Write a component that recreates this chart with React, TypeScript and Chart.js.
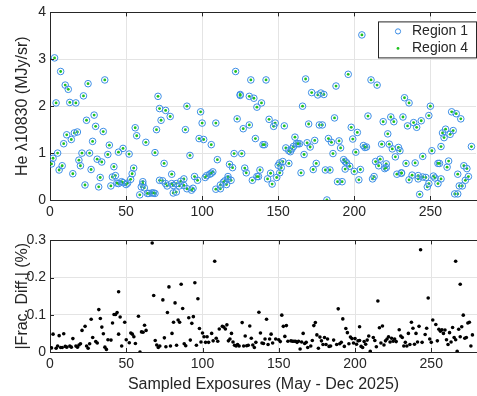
import React, { useEffect, useRef } from 'react';
import { Chart, registerables } from 'chart.js';

Chart.register(...registerables);

const FONT = '"Liberation Sans", Arial, Helvetica, sans-serif';
const AXIS = '#262626';
const GRID = '#e4e4e4';
const BLUE = '#3d8ee6';
const GREEN = '#1fc21f';

const xTickValues = [0, 50, 100, 150, 200, 250];
const topYTicks = [0, 1, 2, 3, 4];
const bottomYTicks = [0, 0.1, 0.2, 0.3];
const bottomYLabels = ['0', '0.1', '0.2', '0.3'];

const seriesNames = ['Region 1', 'Region 4'];
const xLabel = 'Sampled Exposures (May - Dec 2025)';
const topYLabel = 'He \u03bb10830 (MJy/sr)';
const bottomYLabel = '|Frac. Diff.| (%)';

const exposureX = [1,2,3,4,5,6,7,8,9,10,11,12,13,14,15,16,17,18,19,20,21,22,23,24,25,26,27,28,29,30,31,32,33,34,35,36,38,39,40,41,42,43,44,45,45,47,48,48,50,51,52,53,54,55,56,57,59,60,61,61,62,63,64,65,67,68,69,69,70,71,72,72,73,74,75,76,76,77,79,80,80,81,81,83,83,85,86,88,88,89,90,90,92,93,94,95,97,98,99,100,101,102,103,105,106,106,107,109,109,110,112,112,114,115,116,117,117,118,119,120,121,122,123,125,125,126,127,128,129,131,131,132,133,134,135,136,136,137,138,139,140,141,142,143,144,145,146,147,148,149,150,151,151,152,153,154,155,157,157,158,159,160,161,162,163,164,165,166,167,168,169,170,171,172,173,174,175,176,177,178,179,180,181,182,183,184,185,186,187,188,189,190,191,192,193,194,194,195,196,197,198,199,200,201,202,203,204,205,206,207,208,209,211,212,213,214,215,216,217,218,219,220,221,221,222,223,224,225,226,227,228,229,230,231,231,232,233,234,235,236,236,238,239,240,241,242,242,243,244,245,245,247,248,249,249,250,251,252,253,255,255,256,257,257,258,259,260,261,262,263,264,265,266,267,268,268,269,270,271,272,273,274,275,277];

const region1 = [0.77,0.89,3.03,2.07,1.00,0.64,2.74,0.73,1.20,2.45,1.39,2.36,2.08,1.29,0.56,1.43,2.07,1.45,0.85,0.73,1.00,2.22,0.32,1.70,2.48,1.00,0.65,1.25,1.81,1.57,0.87,0.28,0.48,0.81,1.46,2.56,0.97,1.17,0.30,0.49,0.71,0.52,0.36,0.35,1.02,0.39,1.10,0.37,0.33,0.36,0.98,0.44,0.56,0.68,1.54,1.37,0.11,0.28,0.39,0.34,0.26,1.23,0.14,0.14,0.15,0.15,1.01,0.14,1.50,2.21,1.95,0.42,1.70,0.41,0.78,0.35,1.91,0.30,1.78,0.35,0.55,0.15,0.31,0.17,0.35,0.30,0.40,0.31,0.45,1.50,0.24,2.00,0.95,0.21,0.25,0.50,0.42,1.31,1.88,1.64,1.29,0.48,0.52,0.55,1.18,0.57,0.60,0.23,1.64,0.86,0.32,0.24,0.38,0.41,0.33,0.45,0.50,0.76,0.42,0.69,0.99,2.74,1.73,2.23,2.25,0.99,1.52,0.68,0.58,1.60,2.21,2.56,0.42,2.17,1.31,0.50,1.98,0.50,0.64,2.07,1.18,1.18,2.56,0.45,1.72,0.57,0.34,1.57,1.64,0.48,0.74,0.58,0.79,0.69,0.82,1.58,1.11,1.05,0.78,1.03,1.09,1.14,1.34,1.20,1.20,1.20,0.58,2.00,0.97,2.58,1.22,1.62,1.13,2.29,0.65,1.27,0.78,2.24,1.60,2.28,1.60,2.25,0.64,0.00,1.31,0.64,1.23,0.99,1.75,2.43,0.39,1.26,1.11,0.39,0.86,0.66,0.82,0.79,2.68,0.72,1.55,1.30,0.61,1.02,1.44,0.43,0.65,3.52,1.16,1.12,1.13,1.79,2.56,0.45,0.50,0.82,2.45,0.73,0.87,1.19,1.67,0.67,0.77,0.69,1.41,1.19,1.77,1.09,1.67,0.92,0.55,1.12,1.05,0.58,0.57,1.77,2.18,0.78,1.58,2.07,0.43,0.53,1.65,0.79,1.55,0.52,0.45,0.12,1.69,0.93,0.49,0.48,0.28,0.35,1.80,2.00,1.05,0.51,0.47,0.35,0.78,0.78,0.45,1.14,1.43,1.33,1.51,0.70,0.83,1.40,1.88,1.48,0.13,1.84,0.55,0.13,0.30,1.73,0.30,0.73,0.42,0.67,0.50,1.14];

const region4 = [0.77,0.89,3.03,2.07,1.00,0.64,2.74,0.73,1.20,2.45,1.39,2.36,2.08,1.29,0.56,1.43,2.07,1.45,0.85,0.73,1.00,2.22,0.32,1.70,2.48,1.00,0.65,1.25,1.81,1.57,0.87,0.28,0.48,0.81,1.46,2.56,0.97,1.17,0.30,0.49,0.71,0.52,0.36,0.35,1.02,0.39,1.10,0.37,0.33,0.36,0.98,0.44,0.56,0.68,1.54,1.37,0.11,0.28,0.39,0.34,0.26,1.23,0.14,0.14,0.15,0.15,1.01,0.14,1.50,2.21,1.95,0.42,1.70,0.41,0.78,0.35,1.91,0.30,1.78,0.35,0.55,0.15,0.31,0.17,0.35,0.30,0.40,0.31,0.45,1.50,0.24,2.00,0.95,0.21,0.25,0.50,0.42,1.31,1.88,1.64,1.29,0.48,0.52,0.55,1.18,0.57,0.60,0.23,1.64,0.86,0.32,0.24,0.38,0.41,0.33,0.45,0.50,0.76,0.42,0.69,0.99,2.74,1.73,2.23,2.25,0.99,1.52,0.68,0.58,1.60,2.21,2.56,0.42,2.17,1.31,0.50,1.98,0.50,0.64,2.07,1.18,1.18,2.56,0.45,1.72,0.57,0.34,1.57,1.64,0.48,0.74,0.58,0.79,0.69,0.82,1.58,1.11,1.05,0.78,1.03,1.09,1.14,1.34,1.20,1.20,1.20,0.58,2.00,0.97,2.58,1.22,1.62,1.13,2.29,0.65,1.27,0.78,2.24,1.60,2.28,1.60,2.25,0.64,0.00,1.31,0.64,1.23,0.99,1.75,2.43,0.39,1.26,1.11,0.39,0.86,0.66,0.82,0.79,2.68,0.72,1.55,1.30,0.61,1.02,1.44,0.43,0.65,3.52,1.16,1.12,1.13,1.79,2.56,0.45,0.50,0.82,2.45,0.73,0.87,1.19,1.67,0.67,0.77,0.69,1.41,1.19,1.77,1.09,1.67,0.92,0.55,1.12,1.05,0.58,0.57,1.77,2.18,0.78,1.58,2.07,0.43,0.53,1.65,0.79,1.55,0.52,0.45,0.12,1.69,0.93,0.49,0.48,0.28,0.35,1.80,2.00,1.05,0.51,0.47,0.35,0.78,0.78,0.45,1.14,1.43,1.33,1.51,0.70,0.83,1.40,1.88,1.48,0.13,1.84,0.55,0.13,0.30,1.73,0.30,0.73,0.42,0.67,0.50,1.14];

const diffX = [1,2,4,5,6,7,8,9,10,11,13,14,15,17,18,19,20,21,23,24,25,26,27,28,30,31,32,33,34,35,36,37,38,40,41,42,43,44,45,45,46,47,49,50,52,53,54,55,56,58,59,60,61,62,63,67,68,69,70,71,72,74,75,76,77,78,79,80,81,82,83,84,85,86,87,88,89,91,92,93,94,95,96,97,98,99,100,101,102,103,104,106,107,108,109,110,111,113,114,115,116,117,118,119,120,121,122,123,124,126,127,128,129,130,131,132,133,134,135,137,138,139,140,141,142,143,144,145,146,148,150,151,152,153,154,155,156,158,159,160,161,162,163,164,165,166,167,168,169,171,172,173,174,175,176,177,178,179,180,181,182,183,184,186,188,189,190,191,192,193,194,195,196,197,198,199,200,201,202,203,203,204,205,206,207,208,209,210,212,213,214,215,216,217,218,219,220,221,222,223,224,225,226,227,229,230,231,232,233,234,235,236,237,238,239,240,241,242,243,244,246,247,248,249,250,251,253,254,255,256,257,258,259,260,261,262,263,264,265,266,267,266,268,269,269,270,271,272,273,274,275,276,277];

const fracDiff = [0.011,0.048,0.010,0.016,0.044,0.012,0.012,0.049,0.015,0.013,0.016,0.013,0.036,0.016,0.013,0.019,0.022,0.058,0.069,0.016,0.010,0.022,0.088,0.039,0.028,0.024,0.114,0.090,0.067,0.049,0.013,0.007,0.033,0.032,0.078,0.101,0.101,0.106,0.048,0.162,0.094,0.016,0.080,0.033,0.025,0.051,0.048,0.041,0.023,0.096,0.000,0.054,0.053,0.072,0.058,0.293,0.152,0.031,0.019,0.012,0.016,0.140,0.038,0.014,0.106,0.175,0.016,0.050,0.080,0.132,0.018,0.086,0.080,0.182,0.117,0.022,0.017,0.092,0.032,0.077,0.095,0.186,0.018,0.143,0.063,0.027,0.051,0.041,0.026,0.041,0.026,0.050,0.030,0.244,0.037,0.029,0.062,0.069,0.067,0.062,0.073,0.030,0.035,0.050,0.027,0.018,0.016,0.020,0.016,0.079,0.016,0.043,0.017,0.018,0.070,0.037,0.019,0.012,0.026,0.107,0.051,0.024,0.023,0.035,0.088,0.020,0.035,0.048,0.024,0.035,0.033,0.028,0.099,0.069,0.042,0.071,0.029,0.030,0.029,0.029,0.029,0.026,0.029,0.008,0.027,0.050,0.023,0.026,0.012,0.016,0.031,0.071,0.079,0.046,0.010,0.040,0.030,0.020,0.039,0.020,0.035,0.015,0.016,0.032,0.020,0.116,0.022,0.026,0.089,0.015,0.063,0.052,0.022,0.040,0.036,0.024,0.036,0.021,0.030,0.031,0.068,0.015,0.012,0.028,0.021,0.032,0.043,0.002,0.039,0.031,0.014,0.137,0.065,0.024,0.070,0.019,0.030,0.035,0.041,0.027,0.037,0.029,0.035,0.028,0.060,0.043,0.039,0.016,0.026,0.016,0.050,0.020,0.080,0.064,0.021,0.050,0.027,0.069,0.275,0.026,0.047,0.064,0.145,0.035,0.026,0.086,0.074,0.030,0.061,0.056,0.060,0.050,0.059,0.033,0.020,0.052,0.027,0.066,0.039,0.033,0.002,0.244,0.061,0.041,0.182,0.068,0.099,0.037,0.039,0.078,0.080,0.016,0.046];

function pairs(xs: number[], ys: number[]) {
  const n = Math.min(xs.length, ys.length);
  const out: { x: number; y: number }[] = [];
  for (let i = 0; i < n; i++) out.push({ x: xs[i], y: ys[i] });
  return out;
}

const framePlugin = {
  id: 'matlabFrame',
  afterDatasetsDraw(chart: any) {
    const { ctx, chartArea: a, scales } = chart;
    ctx.save();
    ctx.strokeStyle = AXIS;
    ctx.lineWidth = 1;
    ctx.beginPath();
    ctx.moveTo(a.left, Math.round(a.top) + 0.5);
    ctx.lineTo(a.right, Math.round(a.top) + 0.5);
    for (const t of scales.x.ticks) {
      const px = Math.round(scales.x.getPixelForValue(t.value)) + 0.5;
      ctx.moveTo(px, a.bottom);
      ctx.lineTo(px, a.bottom - 4);
      ctx.moveTo(px, a.top);
      ctx.lineTo(px, a.top + 4);
    }
    for (const t of scales.y.ticks) {
      const py = Math.round(scales.y.getPixelForValue(t.value)) + 0.5;
      ctx.moveTo(a.left, py);
      ctx.lineTo(a.left + 4, py);
    }
    ctx.stroke();
    ctx.restore();
  },
};

const legendPlugin = {
  id: 'boxLegend',
  afterDraw(chart: any) {
    const { ctx, chartArea: a } = chart;
    const bx = a.left + 328.5;
    const by = a.top + 9.5;
    const bw = 98;
    const bh = 36;
    ctx.save();
    ctx.fillStyle = '#ffffff';
    ctx.fillRect(bx, by, bw, bh);
    ctx.strokeStyle = AXIS;
    ctx.lineWidth = 1;
    ctx.strokeRect(bx, by, bw, bh);
    const mx = a.left + 348;
    const y1 = a.top + 19;
    const y2 = a.top + 36;
    ctx.beginPath();
    ctx.arc(mx, y1, 2.6, 0, Math.PI * 2);
    ctx.strokeStyle = BLUE;
    ctx.stroke();
    ctx.beginPath();
    ctx.arc(mx, y2, 1.4, 0, Math.PI * 2);
    ctx.fillStyle = GREEN;
    ctx.fill();
    ctx.fillStyle = AXIS;
    ctx.font = `14px ${FONT}`;
    ctx.textBaseline = 'middle';
    ctx.textAlign = 'left';
    ctx.fillText(seriesNames[0], a.left + 362, y1);
    ctx.fillText(seriesNames[1], a.left + 362, y2);
    ctx.restore();
  },
};

function xScale(withTitle: boolean, height: number) {
  return {
    type: 'linear',
    min: 0,
    max: 280,
    afterBuildTicks: (axis: any) => {
      axis.ticks = xTickValues.map((v) => ({ value: v }));
    },
    afterFit: (axis: any) => {
      axis.height = height;
    },
    grid: { color: GRID, drawTicks: false, lineWidth: 1 },
    border: { color: AXIS, width: 1 },
    ticks: {
      color: AXIS,
      font: { family: FONT, size: 14 },
      padding: 4,
      maxRotation: 0,
      autoSkip: false,
      callback: (v: any) => String(v),
    },
    title: {
      display: withTitle,
      text: xLabel,
      color: AXIS,
      font: { family: FONT, size: 16 },
      padding: { top: 0, bottom: 2 },
    },
  };
}

function yScale(min: number, max: number, ticks: number[], labels: string[] | null, title: string) {
  return {
    type: 'linear',
    min,
    max,
    afterBuildTicks: (axis: any) => {
      axis.ticks = ticks.map((v) => ({ value: v }));
    },
    afterFit: (axis: any) => {
      axis.width = 50;
    },
    grid: { color: GRID, drawTicks: false, lineWidth: 1 },
    border: { color: AXIS, width: 1 },
    ticks: {
      color: AXIS,
      font: { family: FONT, size: 14 },
      padding: 4,
      callback: (v: any) => {
        if (labels) {
          const i = ticks.findIndex((t) => Math.abs(t - v) < 1e-9);
          return i >= 0 ? labels[i] : '';
        }
        return String(v);
      },
    },
    title: {
      display: true,
      text: title,
      color: AXIS,
      font: { family: FONT, size: 16 },
      padding: { top: 13, bottom: 0 },
    },
  };
}

export default function App() {
  const topRef = useRef<HTMLCanvasElement | null>(null);
  const botRef = useRef<HTMLCanvasElement | null>(null);

  useEffect(() => {
    document.body.style.margin = '0';
    document.body.style.overflow = 'hidden';
    const topChart = new Chart(topRef.current as HTMLCanvasElement, {
      type: 'scatter',
      data: {
        datasets: [
          {
            label: seriesNames[0],
            data: pairs(exposureX, region1),
            pointStyle: 'circle',
            pointRadius: 3.3,
            pointBorderWidth: 1,
            pointBorderColor: BLUE,
            pointBackgroundColor: 'rgba(0,0,0,0)',
          },
          {
            label: seriesNames[1],
            data: pairs(exposureX, region4),
            pointStyle: 'circle',
            pointRadius: 1.4,
            pointBorderWidth: 0,
            pointBackgroundColor: GREEN,
          },
        ],
      },
      options: {
        responsive: false,
        animation: false,
        devicePixelRatio: 1,
        layout: { padding: { top: 8, left: 0, right: 0, bottom: 0 } },
        plugins: { legend: { display: false }, tooltip: { enabled: false } },
        scales: {
          x: xScale(false, 22),
          y: yScale(0, 4, topYTicks, null, topYLabel),
        },
      } as any,
      plugins: [framePlugin, legendPlugin],
    });

    const botChart = new Chart(botRef.current as HTMLCanvasElement, {
      type: 'scatter',
      data: {
        datasets: [
          {
            label: bottomYLabel,
            data: pairs(diffX, fracDiff),
            pointStyle: 'circle',
            pointRadius: 1.8,
            pointBorderWidth: 0,
            pointBackgroundColor: '#000000',
          },
        ],
      },
      options: {
        responsive: false,
        animation: false,
        devicePixelRatio: 1,
        layout: { padding: { top: 8, left: 0, right: 0, bottom: 0 } },
        plugins: { legend: { display: false }, tooltip: { enabled: false } },
        scales: {
          x: xScale(true, 44),
          y: yScale(0, 0.3, bottomYTicks, bottomYLabels, bottomYLabel),
        },
      } as any,
      plugins: [framePlugin],
    });

    return () => {
      topChart.destroy();
      botChart.destroy();
    };
  }, []);

  return (
    <div
      style={{
        position: 'fixed',
        left: 0,
        top: 0,
        width: 477,
        height: 396,
        overflow: 'hidden',
        background: '#ffffff',
      }}
    >
      <canvas
        ref={topRef}
        width={481}
        height={222}
        style={{ position: 'absolute', left: 0, top: 0, width: 481, height: 222 }}
      />
      <canvas
        ref={botRef}
        width={481}
        height={168}
        style={{ position: 'absolute', left: 0, top: 228, width: 481, height: 168 }}
      />
    </div>
  );
}
